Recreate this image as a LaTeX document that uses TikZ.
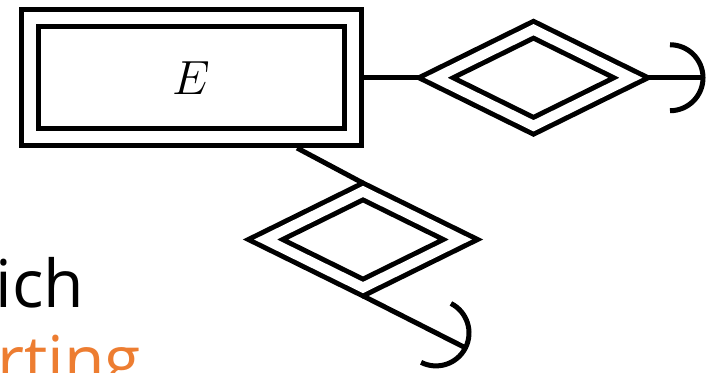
\RequirePackage{fix-cm}
\documentclass[tikz,border=0pt]{standalone}
\usepackage{fontspec}
\newfontfamily\labelfont{Open Sans}
\usetikzlibrary{shapes.geometric, calc}
\definecolor{accentorange}{RGB}{237,125,49}

\begin{document}
\begin{tikzpicture}[x=1pt, y=1pt, line width=5pt,
  entity/.style={rectangle, draw, fill=white, double, double distance=12pt, inner sep=0pt, outer sep=11pt, minimum width=323.75pt, minimum height=118.5pt, font=\fontsize{48}{58}\selectfont},
  relation/.style={diamond, draw, fill=white, double, double distance=10pt, inner sep=0pt, outer xsep=12pt, outer ysep=5.9pt, minimum width=205pt, minimum height=101pt},
  bigtext/.style={anchor=base west, inner sep=0pt, font=\labelfont\fontsize{66}{80}\selectfont}]
\useasboundingbox (0,0) rectangle (711,372);
\clip (0,0) rectangle (711,372);
\node (E) at (191.6,294.25) [entity] {$E$};
\node (r1) at (533.5,294.25) [relation] {};
\node (r2) at (363,132.5) [relation] {};
\coordinate (c1) at (670,294.25);
\coordinate (c2) at ($(r2.south)+(73,-37)$);
\draw (E.east) -- (r1.west);
\draw (r1.east) -- ([xshift=33]c1);
\draw ([yshift=33]c1) arc [start angle=90, end angle=-90, radius=33];
\draw ($(E.south west)!0.805!(E.south east)$) -- (r2.north);
\draw (r2.south) -- ($(c2)!-33pt!(r2.south)$);
\draw ($(c2)+(63.1:33)$) arc [start angle=63.1, end angle=-116.9, radius=33];
\node (which) at (-7,65) [bigtext] {ich};
\node (starting) at (-5,-11) [bigtext, text=accentorange] {rting};
\end{tikzpicture}
\end{document}
